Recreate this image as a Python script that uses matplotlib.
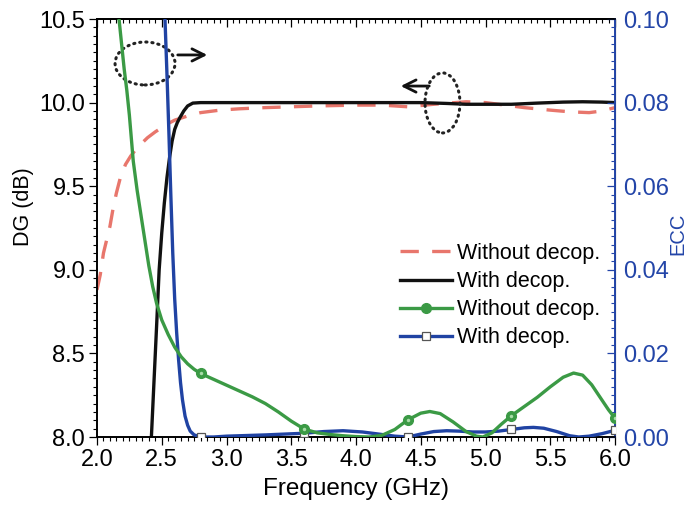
import numpy as np
import matplotlib
matplotlib.use("Agg")
import matplotlib.pyplot as plt
from matplotlib.patches import Ellipse
from matplotlib.ticker import MultipleLocator, FormatStrFormatter

plt.rcParams['font.family'] = ['Liberation Sans', 'DejaVu Sans']

# ---- data ----
dg_with_x = [2.42, 2.44, 2.46, 2.48, 2.50, 2.52, 2.54, 2.56, 2.58, 2.60, 2.62, 2.64, 2.67, 2.70, 2.74, 2.8,
             3.0, 3.5, 4.0, 4.5, 4.7, 4.85, 5.0, 5.2, 5.4, 5.6, 5.75, 5.9, 6.0]
dg_with_y = [8.0, 8.33, 8.66, 9.0, 9.22, 9.40, 9.55, 9.67, 9.77, 9.84, 9.88, 9.91, 9.95, 9.98, 9.997, 10.0,
             10.0, 10.0, 10.0, 10.0, 9.995, 9.99, 9.99, 9.99, 9.997, 10.003, 10.005, 10.003, 10.0]

dg_without_x = [2.0, 2.025, 2.05, 2.075, 2.1, 2.125, 2.15, 2.18, 2.22, 2.26, 2.3, 2.35, 2.39, 2.45, 2.5, 2.55,
                2.6, 2.7, 2.8, 2.95, 3.1, 3.3, 3.5, 3.7, 4.0, 4.2, 4.4, 4.6, 4.85, 5.0, 5.1, 5.3, 5.5, 5.65,
                5.8, 5.9, 6.0]
dg_without_y = [8.88, 8.97, 9.10, 9.18, 9.26, 9.37, 9.46, 9.55, 9.63, 9.68, 9.72, 9.76, 9.79, 9.825, 9.85, 9.875,
                9.895, 9.92, 9.94, 9.955, 9.963, 9.97, 9.975, 9.98, 9.985, 9.985, 9.975, 9.99, 10.005, 10.0, 9.99,
                9.97, 9.955, 9.945, 9.94, 9.95, 9.97]

ecc_without_x = [2.17, 2.19, 2.21, 2.23, 2.25, 2.28, 2.31, 2.34, 2.37, 2.40, 2.43, 2.46, 2.50, 2.55, 2.60, 2.65,
                 2.70, 2.75, 2.8, 2.9, 3.0, 3.1, 3.2, 3.3, 3.4, 3.5, 3.6, 3.7, 3.8, 3.9, 4.0, 4.1, 4.2, 4.3,
                 4.4, 4.5, 4.57, 4.65, 4.75, 4.85, 4.93, 4.98, 5.05, 5.12, 5.2, 5.3, 5.4, 5.5, 5.6, 5.68,
                 5.75, 5.82, 5.9, 5.95, 6.0]
ecc_without_y = [0.100, 0.094, 0.088, 0.083, 0.077, 0.066, 0.059, 0.053, 0.047, 0.041, 0.036, 0.032, 0.028,
                 0.0245, 0.0215, 0.0192, 0.0175, 0.0162, 0.0152, 0.0138, 0.0124, 0.0110, 0.0096, 0.0080,
                 0.0060, 0.0038, 0.0019, 0.0010, 0.0006, 0.0003, 0.0001, 0.0, 0.0004, 0.0018, 0.0041,
                 0.0057, 0.0061, 0.0056, 0.0036, 0.0013, 0.0002, 0.0, 0.0010, 0.0030, 0.0051, 0.0073,
                 0.0095, 0.0120, 0.0143, 0.0153, 0.0148, 0.0125, 0.0088, 0.0065, 0.0045]

ecc_with_x = [2.525, 2.54, 2.555, 2.57, 2.585, 2.60, 2.615, 2.63, 2.645, 2.66, 2.68, 2.70, 2.72, 2.75, 2.8,
              2.9, 3.0, 3.3, 3.6, 3.75, 3.9, 4.05, 4.2, 4.3, 4.4, 4.5, 4.6, 4.7, 4.8, 4.9, 5.0, 5.1, 5.2,
              5.3, 5.37, 5.45, 5.55, 5.65, 5.72, 5.8, 5.9, 6.0]
ecc_with_y = [0.100, 0.087, 0.073, 0.058, 0.044, 0.033, 0.025, 0.0185, 0.013, 0.0089, 0.0050, 0.0028,
              0.0014, 0.0005, 0.0, 0.0, 0.0002, 0.0005, 0.0009, 0.0013, 0.0015, 0.0012, 0.0006, 0.0002,
              0.0, 0.0007, 0.0013, 0.0015, 0.0014, 0.0012, 0.0012, 0.0014, 0.0018, 0.0022, 0.0023,
              0.0021, 0.0013, 0.0003, 0.0, 0.0002, 0.0008, 0.0016]

marker_x = [2.8, 3.6, 4.4, 5.2, 6.0]
labels = ['Without decop.', 'With decop.', 'Without decop.', 'With decop.']

RED = '#e8766c'
GREEN = '#3b9a45'
BLUE = '#2043a3'
BLUE_AX = '#2345a8'

fig = plt.figure(figsize=(6.91, 5.12), dpi=100)
ax = fig.add_axes([97/691, 1-437/512, 518/691, 418/512])
ax2 = ax.twinx()

l1, = ax.plot(dg_without_x, dg_without_y, color=RED, lw=2.4, dashes=(5.5, 4))
l2, = ax.plot(dg_with_x, dg_with_y, color='#111111', lw=2.4, solid_joinstyle='round')

mk_g = [i for i, v in enumerate(ecc_without_x) if v in marker_x]
mk_b = [i for i, v in enumerate(ecc_with_x) if v in marker_x]
l4, = ax2.plot(ecc_with_x, ecc_with_y, color=BLUE, lw=2.4, marker='s', markevery=mk_b, ms=5.5,
               mfc='white', mec='#555555', mew=0.9, zorder=3, solid_joinstyle='round')
l3, = ax2.plot(ecc_without_x, ecc_without_y, color=GREEN, lw=2.4, marker='o', markevery=mk_g, ms=7,
               mfc=GREEN, mec=GREEN, zorder=4, solid_joinstyle='round')
ax2.plot([ecc_without_x[i] for i in mk_g], [ecc_without_y[i] for i in mk_g], ls='none', marker='o',
         ms=2.5, mfc='#a8dca8', mec='none', zorder=5)

ax.set_xlim(2.0, 6.0)
ax.set_ylim(8.0, 10.5)
ax2.set_ylim(0.0, 0.10)

ax.xaxis.set_major_locator(MultipleLocator(0.5))
ax.xaxis.set_minor_locator(MultipleLocator(0.05))
ax.yaxis.set_major_locator(MultipleLocator(0.5))
ax.yaxis.set_minor_locator(MultipleLocator(0.05))
ax2.yaxis.set_major_locator(MultipleLocator(0.02))
ax2.yaxis.set_minor_locator(MultipleLocator(0.002))
ax.xaxis.set_major_formatter(FormatStrFormatter('%.1f'))
ax.yaxis.set_major_formatter(FormatStrFormatter('%.1f'))
ax2.yaxis.set_major_formatter(FormatStrFormatter('%.2f'))

ax.tick_params(axis='both', which='major', direction='out', length=5.5, width=0.9, labelsize=17, pad=3)
ax.tick_params(axis='both', which='minor', direction='out', length=3, width=0.8)
ax.tick_params(axis='y', right=False)
ax2.tick_params(axis='y', which='major', direction='in', length=5.5, width=0.9, labelsize=17,
                colors=BLUE_AX, pad=6)
ax2.tick_params(axis='y', which='minor', direction='in', length=3, width=0.8, colors=BLUE_AX)

sec = ax.secondary_xaxis('top')
sec.xaxis.set_major_locator(MultipleLocator(0.5))
sec.xaxis.set_minor_locator(MultipleLocator(0.05))
sec.tick_params(axis='x', which='major', direction='in', length=5.5, width=0.9, labeltop=False)
sec.tick_params(axis='x', which='minor', direction='in', length=3, width=0.8)
sec.spines['top'].set_linewidth(1.2)

for s in ['left', 'bottom', 'top']:
    ax.spines[s].set_linewidth(1.2)
    ax2.spines[s].set_linewidth(1.2)
ax2.spines['right'].set_color(BLUE_AX)
ax2.spines['right'].set_linewidth(1.4)

ax.set_xlabel('Frequency (GHz)', fontsize=17.5, labelpad=5)
ax.set_ylabel('DG (dB)', fontsize=15.5)
ax.yaxis.set_label_coords(-0.122, 0.55)
ax2.set_ylabel('ECC', fontsize=14.5, color=BLUE_AX)
ax2.yaxis.set_label_coords(1.103, 0.485)

# annotations
ax.add_patch(Ellipse((2.371, 10.234), 0.463, 0.257, fill=False, ec='#222222', lw=2.2,
                     ls=(0, (0.4, 1.6)), capstyle='round', zorder=6))
ax.annotate('', xy=(2.873, 10.285), xytext=(2.602, 10.285),
            arrowprops=dict(arrowstyle='->', lw=2, color='#111111', mutation_scale=22))
ax.add_patch(Ellipse((4.668, 9.998), 0.270, 0.359, fill=False, ec='#222222', lw=2.2,
                     ls=(0, (0.4, 1.6)), capstyle='round', zorder=6))
ax.annotate('', xy=(4.324, 10.099), xytext=(4.587, 10.099),
            arrowprops=dict(arrowstyle='->', lw=2, color='#111111', mutation_scale=22))

leg = ax2.legend([l1, l2, l3, l4], labels, loc='upper left', bbox_to_anchor=(400/691, 1-243/512),
                 bbox_transform=fig.transFigure, frameon=False, fontsize=15.5, borderpad=0,
                 borderaxespad=0, handlelength=2.4, handletextpad=0.25, labelspacing=0.33)

fig.savefig('out.png', dpi=100)
